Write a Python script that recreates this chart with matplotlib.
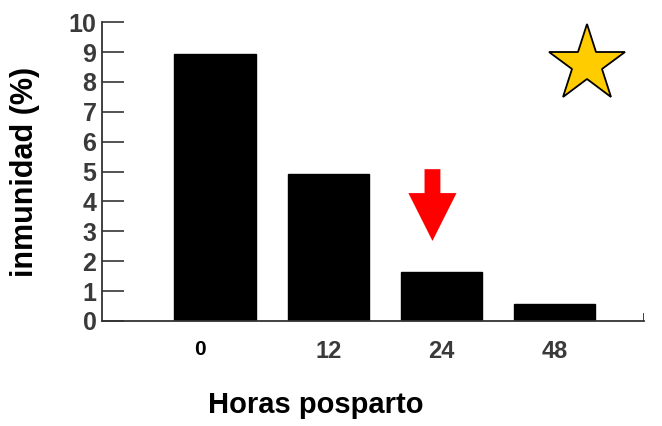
import matplotlib
matplotlib.use("Agg")
import matplotlib.pyplot as plt
import matplotlib.transforms as mtransforms
from matplotlib.patches import FancyArrow
import numpy as np

categories = ["0", "12", "24", "48"]
values = [8.95, 4.92, 1.65, 0.57]
yticks = list(range(0, 11))

fig = plt.figure(figsize=(6.62, 4.26), dpi=100)
ax = fig.add_axes([0.154, 0.2465, 0.819, 0.7015])
x = np.arange(len(categories))
ax.bar(x, values, width=0.72, color="black", edgecolor="black")
ax.set_xlim(-1.0, 3.79)
ax.set_ylim(0, 10)
for s in ["top", "right"]:
    ax.spines[s].set_visible(False)
for s in ["left", "bottom"]:
    ax.spines[s].set_color("#333333")
    ax.spines[s].set_linewidth(1.3)

ax.set_yticks(yticks)
ax.set_yticklabels([str(t) for t in yticks], fontsize=18, fontweight="bold",
                   color="#3a3a3a", family=["Liberation Sans Narrow", "Liberation Sans", "DejaVu Sans"])
ax.tick_params(axis="y", direction="in", length=16, width=1.3, color="#444444", pad=4)
ax.set_xticks(x)
ax.set_xticklabels(categories, fontsize=17, fontweight="bold", color="#3a3a3a",
                   family=["Liberation Sans", "DejaVu Sans"])
ax.tick_params(axis="x", length=0, pad=14)
lbl0 = ax.get_xticklabels()[0]
lbl0.set_color("black")
lbl0.set_fontsize(15)
lbl0.set_transform(lbl0.get_transform() +
                   mtransforms.ScaledTranslation(-15 / 100, 0, fig.dpi_scale_trans))
ax.axvline(3.79, ymin=0, ymax=0.025, color="#333333", lw=1.3)

ax.set_ylabel("inmunidad (%)", fontsize=22, fontweight="bold",
              family=["Liberation Sans", "DejaVu Sans"])
ax.yaxis.set_label_coords(-0.115, 0.5)
ax.set_xlabel("Horas posparto", fontsize=21, fontweight="bold",
              family=["Liberation Sans", "DejaVu Sans"])
ax.xaxis.set_label_coords(0.395, -0.235)

arrow = FancyArrow(1.92, 5.08, 0, -2.4, width=0.14, head_width=0.425,
                   head_length=1.6, length_includes_head=True,
                   color="#ff0000", lw=0)
ax.add_patch(arrow)

fig.lines.append(plt.Line2D([0.887], [0.85], transform=fig.transFigure, marker="*",
                            markersize=58, markerfacecolor="#ffcc00",
                            markeredgecolor="black", markeredgewidth=1.3, linestyle="none"))

fig.savefig("out.png", dpi=100)
